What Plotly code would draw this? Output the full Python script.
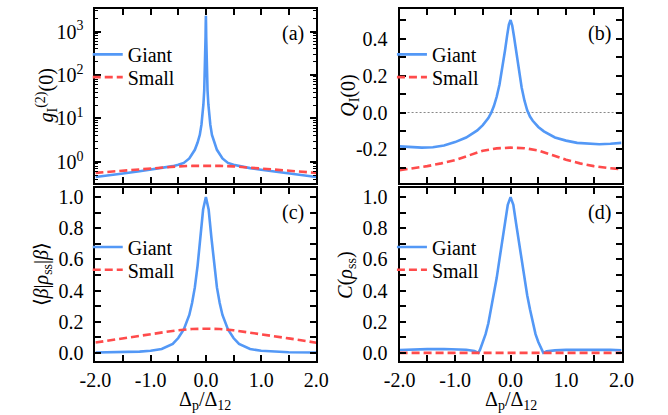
import plotly.graph_objects as go

# ---------------- data ----------------
x_major = [-2.0, -1.0, 0.0, 1.0, 2.0]
x_major_text = ["-2.0", "-1.0", "0.0", "1.0", "2.0"]
x_minor = [-1.5, -0.5, 0.5, 1.5]

# (a) g_I^(2)(0)
xa_giant = [-2.0, -1.8, -1.5, -1.2, -1.0, -0.8, -0.6, -0.5, -0.4, -0.3, -0.2, -0.15, -0.11, -0.08,
            -0.06, -0.045, -0.03, -0.02, -0.015, -0.01, -0.006, -0.003, 0.0,
            0.003, 0.006, 0.01, 0.015, 0.02, 0.03, 0.045, 0.06, 0.08, 0.11, 0.15, 0.2, 0.3,
            0.4, 0.5, 0.6, 0.8, 1.0, 1.2, 1.5, 1.8, 2.0]
ya_giant = [0.45, 0.48, 0.54, 0.61, 0.66, 0.72, 0.80, 0.86, 0.95, 1.2, 1.9, 2.8, 4.2, 7.2,
            12, 21, 44, 96, 165, 340, 746, 1500, 2300,
            1500, 746, 340, 165, 96, 44, 21, 12, 7.2, 4.2, 2.8, 1.9, 1.2,
            0.95, 0.86, 0.80, 0.72, 0.66, 0.61, 0.54, 0.48, 0.45]
xa_small = [-2.0, -1.75, -1.5, -1.25, -1.0, -0.75, -0.5, -0.25, 0.0, 0.25, 0.5, 0.75, 1.0, 1.25, 1.5, 1.75, 2.0]
ya_small = [0.56, 0.595, 0.63, 0.67, 0.71, 0.75, 0.79, 0.81, 0.82, 0.81, 0.79, 0.75, 0.71, 0.67, 0.63, 0.595, 0.56]

# (b) Q_I(0)
xb_giant = [-2.0, -1.8, -1.6, -1.4, -1.2, -1.0, -0.8, -0.6, -0.5, -0.4, -0.35, -0.3, -0.25, -0.2, -0.15,
            -0.1, -0.06, -0.03, 0.0, 0.03, 0.06, 0.1, 0.15, 0.2, 0.25, 0.3, 0.35, 0.4, 0.5, 0.6,
            0.8, 1.0, 1.2, 1.4, 1.6, 1.8, 2.0]
yb_giant = [-0.183, -0.188, -0.190, -0.188, -0.178, -0.160, -0.135, -0.097, -0.068, -0.030, -0.002, 0.035,
            0.085, 0.150, 0.235, 0.335, 0.420, 0.475, 0.500, 0.470, 0.415, 0.330, 0.225, 0.135, 0.065,
            0.012, -0.022, -0.045, -0.078, -0.102, -0.135, -0.152, -0.164, -0.170, -0.172, -0.169, -0.164]
xb_small = [-2.0, -1.75, -1.5, -1.25, -1.0, -0.75, -0.5, -0.25, 0.0, 0.25, 0.5, 0.75, 1.0, 1.25, 1.5, 1.75, 2.0]
yb_small = [-0.312, -0.302, -0.290, -0.275, -0.258, -0.232, -0.207, -0.194, -0.190, -0.193, -0.205, -0.230,
            -0.255, -0.275, -0.290, -0.300, -0.306]
xb_zero = [-2.0, 2.0]
yb_zero = [0.0, 0.0]

# (c) <beta|rho_ss|beta>
xc_giant = [-2.0, -1.5, -1.2, -1.0, -0.8, -0.6, -0.5, -0.4, -0.3, -0.25, -0.2, -0.15, -0.1, -0.05, 0.0,
            0.05, 0.1, 0.15, 0.2, 0.25, 0.3, 0.4, 0.5, 0.6, 0.8, 1.0, 1.2, 1.5, 2.0]
yc_giant = [0.002, 0.004, 0.008, 0.013, 0.025, 0.058, 0.095, 0.150, 0.243, 0.320, 0.420, 0.560, 0.740, 0.920, 1.0,
            0.920, 0.740, 0.560, 0.420, 0.320, 0.243, 0.150, 0.095, 0.058, 0.025, 0.013, 0.008, 0.004, 0.002]
xc_small = [-2.0, -1.75, -1.5, -1.25, -1.0, -0.75, -0.5, -0.25, 0.0, 0.25, 0.5, 0.75, 1.0, 1.25, 1.5, 1.75, 2.0]
yc_small = [0.066, 0.080, 0.093, 0.107, 0.120, 0.133, 0.145, 0.153, 0.155, 0.153, 0.145, 0.133, 0.120, 0.107,
            0.093, 0.079, 0.065]

# (d) C(rho_ss)
xd_giant = [-2.0, -1.8, -1.5, -1.2, -1.0, -0.8, -0.65, -0.58, -0.55, -0.5, -0.45, -0.4, -0.35, -0.3, -0.25,
            -0.2, -0.15, -0.1, -0.05, 0.0, 0.05, 0.1, 0.15, 0.2, 0.25, 0.3, 0.35, 0.4, 0.45, 0.5,
            0.55, 0.59, 0.65, 0.8, 1.0, 1.2, 1.5, 1.8, 2.0]
yd_giant = [0.018, 0.021, 0.024, 0.025, 0.024, 0.020, 0.012, 0.0, 0.02, 0.07, 0.12, 0.19, 0.28, 0.37, 0.48,
            0.60, 0.71, 0.83, 0.95, 1.0, 0.95, 0.83, 0.71, 0.60, 0.48, 0.37, 0.28, 0.19, 0.12, 0.07,
            0.025, 0.0, 0.010, 0.016, 0.019, 0.020, 0.020, 0.019, 0.017]
xd_small = [-2.0, -1.0, 0.0, 1.0, 2.0]
yd_small = [0.0, 0.0, 0.0, 0.0, 0.0]

panel_labels = ["(a)", "(b)", "(c)", "(d)"]
series_names = ["Giant", "Small"]

# y tick values
y01_major = [0.0, 0.2, 0.4, 0.6, 0.8, 1.0]
y01_major_text = ["0.0", "0.2", "0.4", "0.6", "0.8", "1.0"]
y01_minor = [0.1, 0.3, 0.5, 0.7, 0.9]
yb_major = [-0.2, 0.0, 0.2, 0.4]
yb_major_text = ["-0.2", "0.0", "0.2", "0.4"]
yb_minor = [-0.3, -0.1, 0.1, 0.3, 0.5]
log_major = [1, 10, 100, 1000]
log_major_text = ["10<sup>0</sup>", "10<sup>1</sup>", "10<sup>2</sup>", "10<sup>3</sup>"]
log_minor = [m * 10 ** e for e in range(-1, 4) for m in range(2, 10)]

# ---------------- style ----------------
W, H = 668, 415
FONT = "Liberation Serif, Times New Roman, serif"
BLUE = "#5398F6"
RED = "#FF4B4B"
LW = 2.6


def fx(px):
    return px / W


def fy(py):
    return 1 - py / H


cols = [(83, 314), (401, 633)]
rows = [(7, 183), (188, 363)]

fig = go.Figure()

panels = [
    (xa_giant, ya_giant, xa_small, ya_small),
    (xb_giant, yb_giant, xb_small, yb_small),
    (xc_giant, yc_giant, xc_small, yc_small),
    (xd_giant, yd_giant, xd_small, yd_small),
]

for i, (xg, yg, xs, ys) in enumerate(panels):
    k = "" if i == 0 else str(i + 1)
    lg = "legend" if i == 0 else "legend" + str(2 * i + 1)
    ls = "legend" + str(2 * i + 2)
    if i == 1:
        fig.add_trace(go.Scatter(x=xb_zero, y=yb_zero, mode="lines", xaxis="x2", yaxis="y2",
                                 line=dict(color="#888888", width=1, dash="2px,2px"),
                                 showlegend=False, hoverinfo="skip"))
    fig.add_trace(go.Scatter(x=xg, y=yg, mode="lines", name=series_names[0],
                             xaxis="x" + k, yaxis="y" + k, legend=lg,
                             line=dict(color=BLUE, width=LW)))
    fig.add_trace(go.Scatter(x=xs, y=ys, mode="lines", name=series_names[1],
                             xaxis="x" + k, yaxis="y" + k, legend=ls,
                             line=dict(color=RED, width=LW, dash="8px,4px")))

common_axis = dict(showline=True, linecolor="black", linewidth=2, mirror="ticks",
                   ticks="inside", ticklen=6, tickwidth=1.5, tickcolor="black",
                   showgrid=False, zeroline=False,
                   tickfont=dict(family=FONT, size=20, color="black"))
minor_lin = dict(ticks="inside", ticklen=6, tickwidth=1.5, tickcolor="black", showgrid=False)

layout = dict(width=W, height=H, margin=dict(l=0, r=0, t=0, b=0),
              paper_bgcolor="white", plot_bgcolor="white",
              font=dict(family=FONT, size=20, color="black"))

for i in range(4):
    c, r = [(0, 0), (1, 0), (0, 1), (1, 1)][i]
    k = "" if i == 0 else str(i + 1)
    xd = [fx(cols[c][0]), fx(cols[c][1])]
    yd = [fy(rows[r][1]), fy(rows[r][0])]
    xax = dict(common_axis, domain=xd, anchor="y" + k, range=[-2.0, 2.0],
               tickmode="array", tickvals=x_major, ticktext=x_major_text,
               minor=dict(minor_lin, tickmode="array", tickvals=x_minor),
               showticklabels=(r == 1), ticklabelstandoff=0)
    if i == 0:
        yax = dict(common_axis, domain=yd, anchor="x" + k, type="log", range=[-0.48, 3.52],
                   tickmode="array", tickvals=log_major, ticktext=log_major_text,
                   ticklabelstandoff=6,
                   minor=dict(tickmode="array", tickvals=log_minor, ticks="inside", ticklen=3,
                              tickwidth=1, tickcolor="black", showgrid=False))
    elif i == 1:
        yax = dict(common_axis, domain=yd, anchor="x" + k, range=[-0.38, 0.56],
                   tickmode="array", tickvals=yb_major, ticktext=yb_major_text, ticklabelstandoff=6,
                   minor=dict(minor_lin, tickmode="array", tickvals=yb_minor))
    else:
        yax = dict(common_axis, domain=yd, anchor="x" + k, range=[-0.05, 1.06],
                   tickmode="array", tickvals=y01_major, ticktext=y01_major_text, ticklabelstandoff=6,
                   minor=dict(minor_lin, tickmode="array", tickvals=y01_minor))
    layout["xaxis" + k] = xax
    layout["yaxis" + k] = yax
    lg = "legend" if i == 0 else "legend" + str(2 * i + 1)
    ls = "legend" + str(2 * i + 2)
    yg_px, ys_px = (53, 76) if r == 0 else (248, 271)
    for name, ypx in ((lg, yg_px), (ls, ys_px)):
        layout[name] = dict(x=fx(cols[c][0] - 8), y=fy(ypx), xanchor="left", yanchor="middle",
                            bgcolor="rgba(0,0,0,0)", font=dict(family=FONT, size=20, color="black"),
                            itemwidth=30, tracegroupgap=0)

fig.update_layout(**layout)

# panel labels
label_pos = [(290, 32), (610, 32), (290, 213), (610, 213)]
for lab, (px, py) in zip(panel_labels, label_pos):
    fig.add_annotation(x=fx(px), y=fy(py), xref="paper", yref="paper", text=lab, showarrow=False,
                       font=dict(family=FONT, size=20, color="black"), xanchor="center", yanchor="middle")

# axis titles
ytitles = [
    ("<i>g</i><sub>I</sub><sup>(2)</sup>(0)", 32, 95),
    ("<i>Q</i><sub>I</sub>(0)", 349, 95),
    ("⟨<i>β</i>|<i>ρ</i><sub>ss</sub>|<i>β</i>⟩", 28, 276),
    ("<i>C</i>(<i>ρ</i><sub>ss</sub>)", 346, 276),
]
for txt, px, py in ytitles:
    fig.add_annotation(x=fx(px), y=fy(py), xref="paper", yref="paper", text=txt, showarrow=False,
                       textangle=-90, font=dict(family=FONT, size=20, color="black"),
                       xanchor="center", yanchor="middle")
for px in [198, 517]:
    fig.add_annotation(x=fx(px), y=fy(403), xref="paper", yref="paper",
                       text="Δ<sub>p</sub>/Δ<sub>12</sub>", showarrow=False,
                       font=dict(family=FONT, size=20, color="black"), xanchor="center", yanchor="middle")

fig.write_html("out.html", config={"displayModeBar": False},
               post_script="document.body.style.margin='0';document.body.style.padding='0';"
                           "document.documentElement.style.overflow='hidden';")
